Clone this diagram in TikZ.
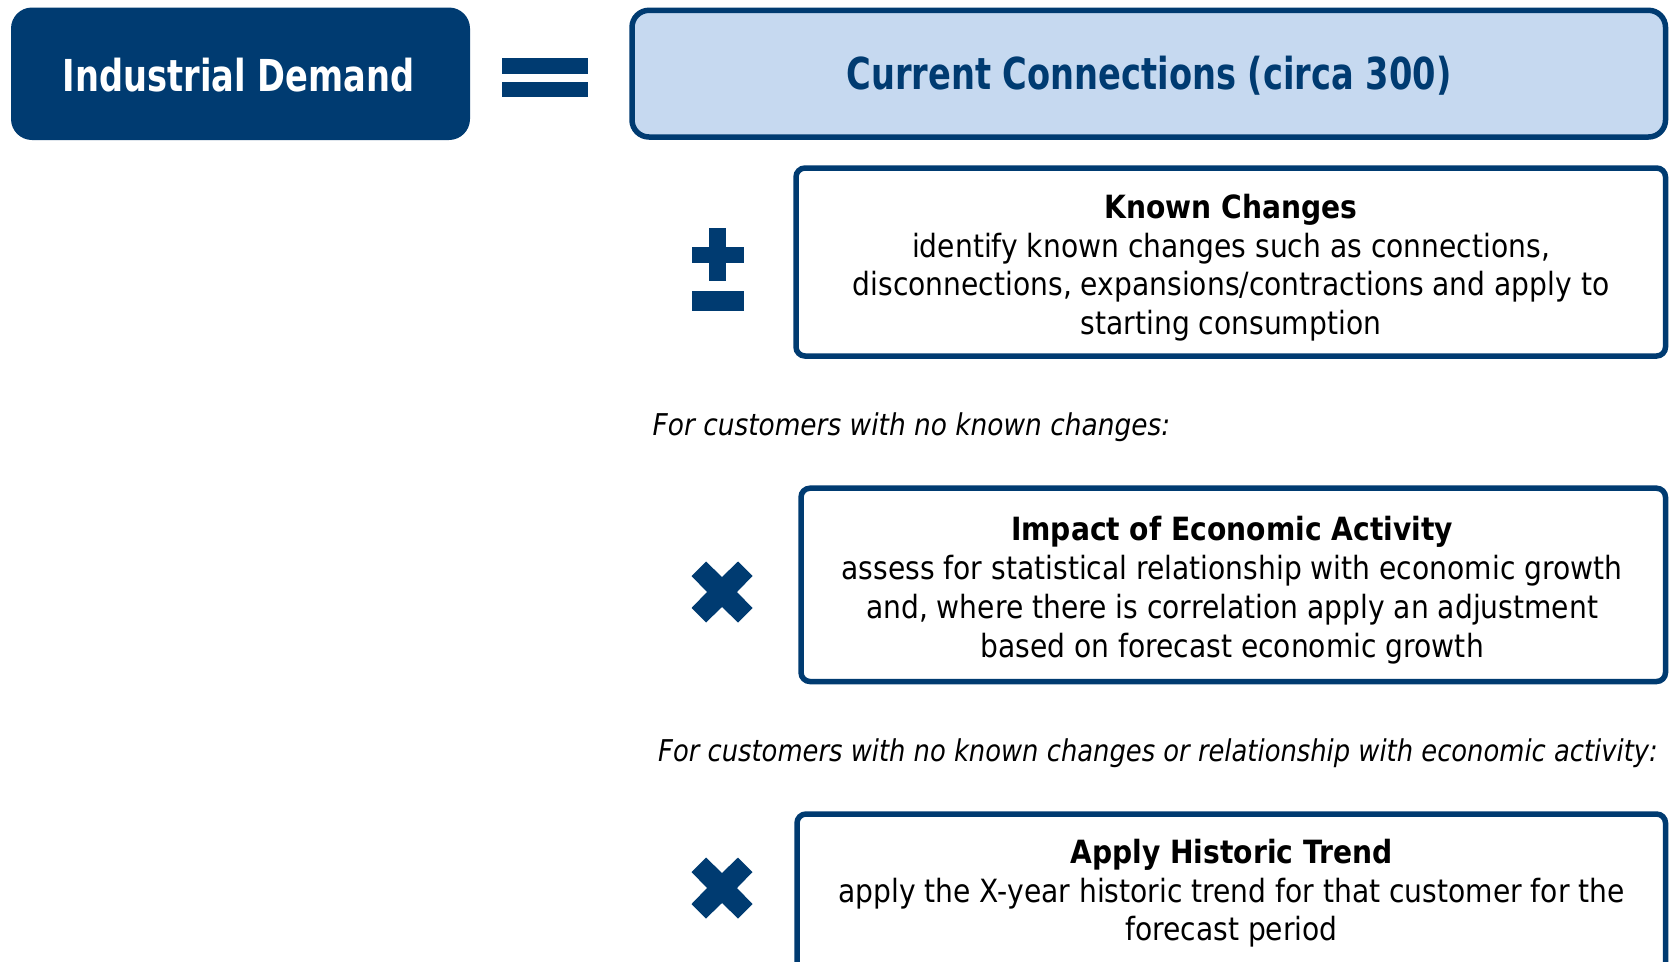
\documentclass[tikz,border=0pt]{standalone}
\usepackage{fontspec}
\setmainfont{DejaVu Sans}
\newfontfamily\tah[FakeStretch=0.88]{DejaVu Sans}
\newfontfamily\tahhead[FakeStretch=0.765]{DejaVu Sans}
\newfontfamily\tahnarrow[FakeStretch=0.86]{DejaVu Sans}
\definecolor{navy}{RGB}{0,59,113}
\definecolor{paleblue}{RGB}{198,217,240}
\tikzset{
  panel/.style={draw=navy, line width=5.5pt, fill=white, rounded corners=9pt},
  bodytext/.style={font=\tah\fontsize{32}{38.9}\selectfont, align=center, inner sep=0pt, text=black},
  headtext/.style={font=\tahhead\bfseries\fontsize{44}{50}\selectfont, inner sep=0pt},
  notetext/.style={font=\tah\itshape\fontsize{30}{36}\selectfont, inner sep=0pt, anchor=west},
  symbol/.style={fill=navy},
}
\begin{document}
\begin{tikzpicture}[x=1pt, y=-1pt]
\useasboundingbox (0,0) rectangle (1669,961);
\clip (0,0) rectangle (1669,961);

% headline: Industrial Demand = Current Connections
\fill[navy, rounded corners=21pt] (11,7.5) rectangle (470,140);
\node[headtext, text=white] (demand) at (238.5,75.5) {Industrial Demand};
\fill[symbol] (502,58) rectangle (587.5,74);
\fill[symbol] (502,82) rectangle (587.5,97);
\draw[navy, line width=5.5pt, fill=paleblue, rounded corners=17pt] (632,10.3) rectangle (1665.5,137);
\node[headtext, text=navy] (current) at (1149,75.5) {Current Connections (circa 300)};

% plus/minus
\fill[symbol] (692,246.7) rectangle (743.5,262.7);
\fill[symbol] (709.3,228.3) rectangle (726,281);
\fill[symbol] (692,291) rectangle (743.5,311);
\draw[panel] (796,168) rectangle (1665.5,356);
\node[bodytext] (known) at (1231,267.7) {\textbf{Known Changes}\\identify known changes such as connections,\\disconnections, expansions/contractions and apply to\\starting consumption};

\node[notetext] (note1) at (652.5,426.8) {For customers with no known changes:};

% times sign
\fill[symbol, shift={(722,592)}] (-16,-30.5) -- (0,-15) -- (16,-30.5) -- (30.5,-16) -- (15,0) -- (30.5,16) -- (16,30.5) -- (0,15) -- (-16,30.5) -- (-30.5,16) -- (-15,0) -- (-30.5,-16) -- cycle;
\draw[panel] (801,488.2) rectangle (1665.5,681.5);
\node[bodytext] (impact) at (1232,590.2) {\textbf{Impact of Economic Activity}\\assess for statistical relationship with economic growth\\and, where there is correlation apply an adjustment\\based on forecast economic growth};

\node[notetext, font=\tahnarrow\itshape\fontsize{30}{36}\selectfont] (note2) at (658,753.6) {For customers with no known changes or relationship with economic activity:};

\fill[symbol, shift={(722,888)}] (-16,-30.5) -- (0,-15) -- (16,-30.5) -- (30.5,-16) -- (15,0) -- (30.5,16) -- (16,30.5) -- (0,15) -- (-16,30.5) -- (-30.5,16) -- (-15,0) -- (-30.5,-16) -- cycle;
\draw[panel] (797,814) rectangle (1665.5,1010);
\node[bodytext] (trend) at (1231.5,893.2) {\textbf{Apply Historic Trend}\\apply the X-year historic trend for that customer for the\\forecast period};
\end{tikzpicture}
\end{document}
